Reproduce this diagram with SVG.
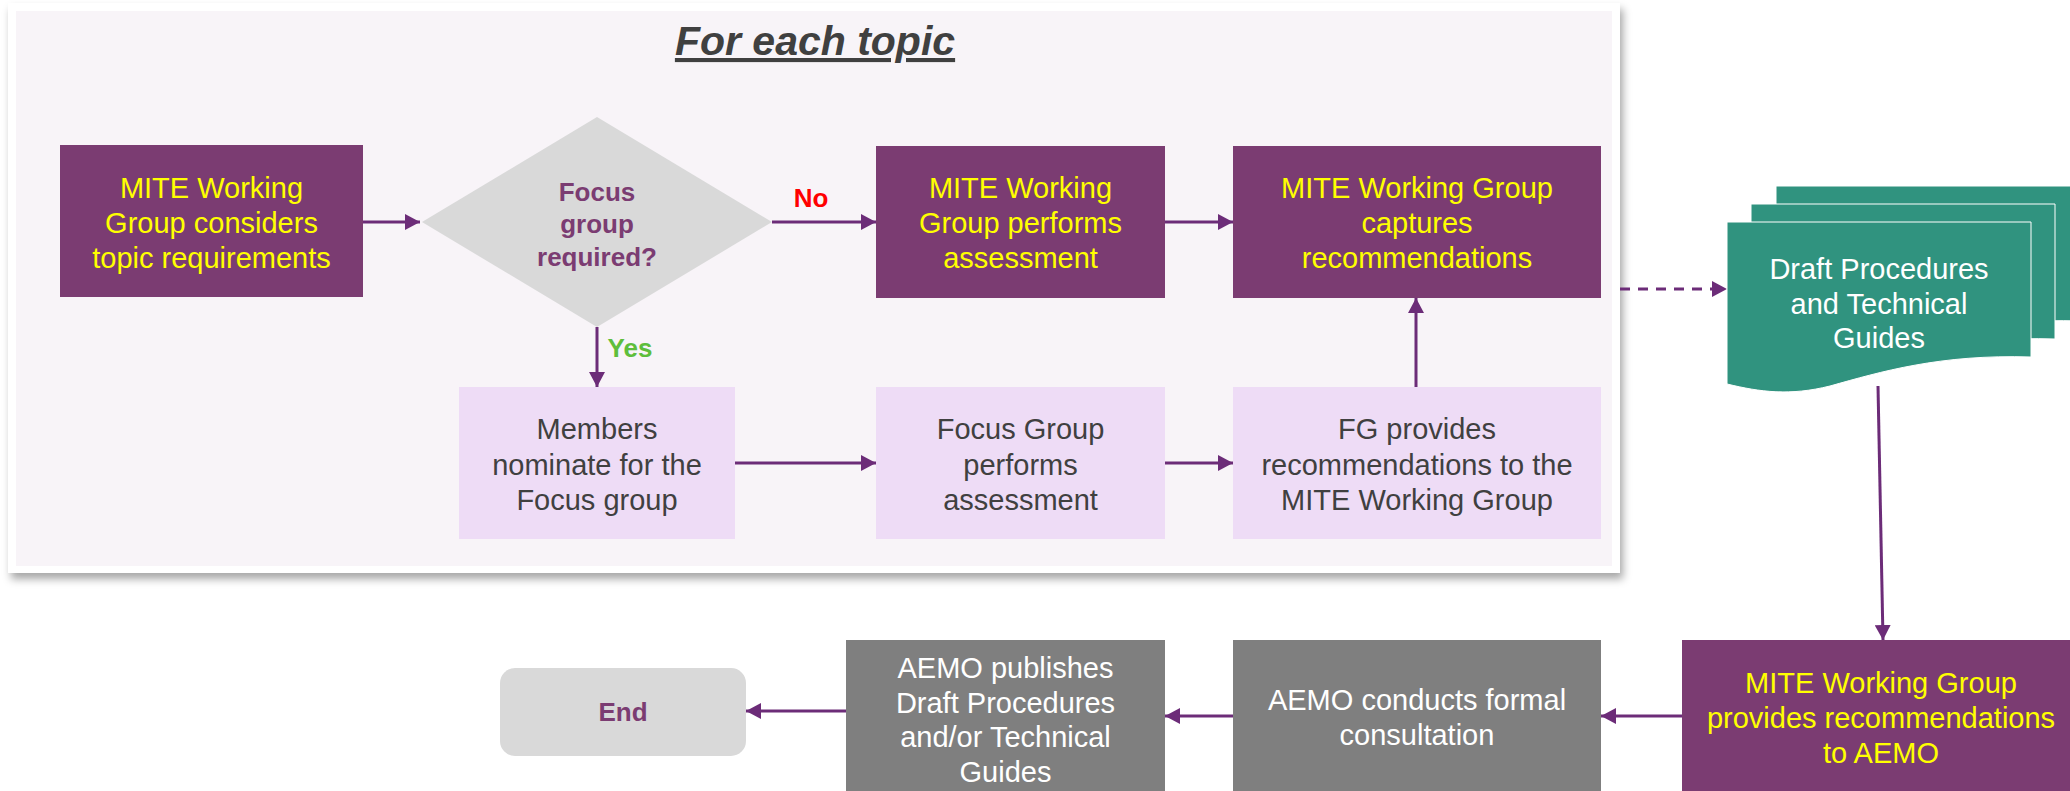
<svg xmlns="http://www.w3.org/2000/svg" width="2070" height="791" viewBox="0 0 2070 791">
<style>
text{font-family:"Liberation Sans",Arial,sans-serif;text-anchor:middle}
.t{font-size:29px}
.y{fill:#FFFF00}
.d{fill:#404040}
.w{fill:#FFFFFF}
.b{font-size:26px;font-weight:bold}
.pp{fill:#7B3C72}
.lv{fill:#EEDCF6}
.gr{fill:#7F7F7F}
.cn{stroke:#6C2C78;stroke-width:3;fill:none;marker-end:url(#ah)}
.doc{fill:#30937F;stroke:#FFFFFF;stroke-width:1}
</style>
<defs>
<marker id="ah" markerUnits="userSpaceOnUse" markerWidth="16" markerHeight="16" refX="15" refY="8" orient="auto">
<path d="M0,0 L15,8 L0,16 Z" fill="#6C2C78"/>
</marker>
<filter id="sh" x="-5%" y="-5%" width="110%" height="115%">
<feDropShadow dx="3" dy="6" stdDeviation="4" flood-color="#000" flood-opacity="0.35"/>
</filter>
</defs>
<rect width="2070" height="791" fill="#FFFFFF"/>
<g id="panel">
<rect x="8" y="3" width="1612" height="570" fill="#FFFFFF" filter="url(#sh)"/>
<rect x="16" y="11" width="1596" height="555" fill="#F8F4F8"/>
<text x="815" y="55" style="font-size:41px;font-weight:bold;font-style:italic;text-decoration:underline" fill="#404040">For each topic</text>
</g>
<g id="connectors">
<line class="cn" x1="363" y1="222" x2="420" y2="222"/>
<line class="cn" x1="772" y1="222" x2="876" y2="222"/>
<line class="cn" x1="1165" y1="222" x2="1233" y2="222"/>
<line class="cn" x1="597" y1="327" x2="597" y2="387"/>
<line class="cn" x1="735" y1="463" x2="876" y2="463"/>
<line class="cn" x1="1165" y1="463" x2="1233" y2="463"/>
<line class="cn" x1="1416" y1="387" x2="1416" y2="298"/>
<line class="cn" x1="1620" y1="289" x2="1727" y2="289" stroke-dasharray="10 8"/>
<line class="cn" x1="1878" y1="386" x2="1883" y2="640"/>
<line class="cn" x1="1682" y1="716" x2="1601" y2="716"/>
<line class="cn" x1="1233" y1="716" x2="1165" y2="716"/>
<line class="cn" x1="846" y1="711" x2="746" y2="711"/>
<text class="b" x="811" y="207" fill="#FF0000">No</text>
<text class="b" x="630" y="357" fill="#5EBE3C">Yes</text>
</g>
<g id="n1">
<rect class="pp" x="60" y="145" width="303" height="152"/>
<text class="t y" x="211.5"><tspan x="211.5" y="198">MITE Working</tspan><tspan x="211.5" y="233">Group considers</tspan><tspan x="211.5" y="268">topic requirements</tspan></text>
</g>
<g id="n2">
<polygon points="597,117 772,222 597,327 422,222" fill="#D9D9D9"/>
<text class="b pp"><tspan x="597" y="201">Focus</tspan><tspan x="597" y="233">group</tspan><tspan x="597" y="266">required?</tspan></text>
</g>
<g id="n3">
<rect class="pp" x="876" y="146" width="289" height="152"/>
<text class="t y"><tspan x="1020.5" y="198">MITE Working</tspan><tspan x="1020.5" y="233">Group performs</tspan><tspan x="1020.5" y="268">assessment</tspan></text>
</g>
<g id="n4">
<rect class="pp" x="1233" y="146" width="368" height="152"/>
<text class="t y"><tspan x="1417" y="198">MITE Working Group</tspan><tspan x="1417" y="233">captures</tspan><tspan x="1417" y="268">recommendations</tspan></text>
</g>
<g id="n5">
<rect class="lv" x="459" y="387" width="276" height="152"/>
<text class="t d"><tspan x="597" y="439">Members</tspan><tspan x="597" y="475">nominate for the</tspan><tspan x="597" y="510">Focus group</tspan></text>
</g>
<g id="n6">
<rect class="lv" x="876" y="387" width="289" height="152"/>
<text class="t d"><tspan x="1020.5" y="439">Focus Group</tspan><tspan x="1020.5" y="475">performs</tspan><tspan x="1020.5" y="510">assessment</tspan></text>
</g>
<g id="n7">
<rect class="lv" x="1233" y="387" width="368" height="152"/>
<text class="t d"><tspan x="1417" y="439">FG provides</tspan><tspan x="1417" y="475">recommendations to the</tspan><tspan x="1417" y="510">MITE Working Group</tspan></text>
</g>
<g id="n8">
<path class="doc" transform="translate(49,-36)" d="M1727,222 H2031 V357 C1940,354 1880,372 1830,386 C1790,396 1760,392 1727,384 Z"/>
<path class="doc" transform="translate(24,-18)" d="M1727,222 H2031 V357 C1940,354 1880,372 1830,386 C1790,396 1760,392 1727,384 Z"/>
<path class="doc" d="M1727,222 H2031 V357 C1940,354 1880,372 1830,386 C1790,396 1760,392 1727,384 Z"/>
<text class="t w"><tspan x="1879" y="279">Draft Procedures</tspan><tspan x="1879" y="314">and Technical</tspan><tspan x="1879" y="348">Guides</tspan></text>
</g>
<g id="n9">
<rect class="pp" x="1682" y="640" width="400" height="160"/>
<text class="t y"><tspan x="1881" y="693">MITE Working Group</tspan><tspan x="1881" y="728">provides recommendations</tspan><tspan x="1881" y="763">to AEMO</tspan></text>
</g>
<g id="n10">
<rect class="gr" x="1233" y="640" width="368" height="160"/>
<text class="t w"><tspan x="1417" y="710">AEMO conducts formal</tspan><tspan x="1417" y="745">consultation</tspan></text>
</g>
<g id="n11">
<rect class="gr" x="846" y="640" width="319" height="160"/>
<text class="t w"><tspan x="1005.5" y="678">AEMO publishes</tspan><tspan x="1005.5" y="713">Draft Procedures</tspan><tspan x="1005.5" y="747">and/or Technical</tspan><tspan x="1005.5" y="782">Guides</tspan></text>
</g>
<g id="n12">
<rect x="500" y="668" width="246" height="88" rx="15" fill="#D9D9D9"/>
<text class="b pp" x="623" y="721">End</text>
</g>
</svg>
